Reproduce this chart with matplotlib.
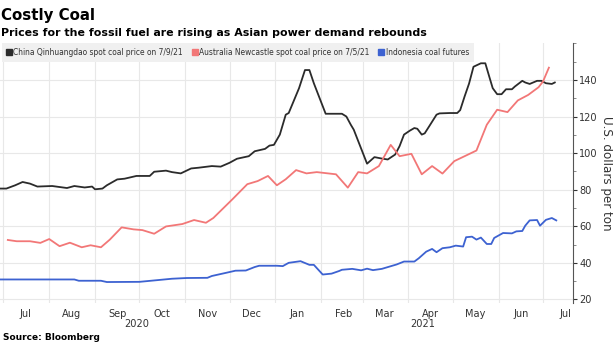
import matplotlib
matplotlib.use("Agg")
import matplotlib.pyplot as plt
import matplotlib.dates as mdates
from matplotlib.lines import Line2D
from matplotlib.ticker import MultipleLocator
import pandas as pd

# China Qinhuangdao spot coal price
china_dates = [
    "2020-06-29", "2020-07-03", "2020-07-09", "2020-07-14", "2020-07-19", "2020-07-24",
    "2020-08-03", "2020-08-13", "2020-08-18", "2020-08-25", "2020-08-30", "2020-09-01",
    "2020-09-06", "2020-09-09", "2020-09-16", "2020-09-21", "2020-09-29", "2020-10-08",
    "2020-10-11", "2020-10-19", "2020-10-23", "2020-10-29", "2020-11-05", "2020-11-10",
    "2020-11-19", "2020-11-25", "2020-12-01", "2020-12-06", "2020-12-14", "2020-12-18",
    "2020-12-25", "2020-12-28", "2020-12-31", "2021-01-04", "2021-01-08", "2021-01-10",
    "2021-01-17", "2021-01-21", "2021-01-24", "2021-01-27", "2021-02-04", "2021-02-15",
    "2021-02-18", "2021-02-21", "2021-02-23", "2021-03-04", "2021-03-09", "2021-03-14",
    "2021-03-18", "2021-03-23", "2021-03-26", "2021-03-29", "2021-04-02", "2021-04-05",
    "2021-04-07", "2021-04-10", "2021-04-12", "2021-04-15", "2021-04-20", "2021-04-22",
    "2021-04-29", "2021-05-04", "2021-05-06", "2021-05-09", "2021-05-12", "2021-05-15",
    "2021-05-20", "2021-05-23", "2021-05-26", "2021-05-28", "2021-05-31", "2021-06-03",
    "2021-06-06", "2021-06-10", "2021-06-12", "2021-06-17", "2021-06-19", "2021-06-22",
    "2021-06-27", "2021-06-30", "2021-07-03", "2021-07-07", "2021-07-09",
]
china_vals = [
    80.6, 80.6, 82.4, 84.2, 83.3, 81.7,
    82.0, 80.9, 82.0, 81.2, 81.7, 80.2,
    80.6, 82.4, 85.6, 86.0, 87.5, 87.5,
    89.8, 90.4, 89.6, 88.9, 91.6, 92.0,
    92.9, 92.6, 94.7, 96.9, 98.3, 101.0,
    102.3, 104.1, 104.5, 110.1, 121.0, 121.9,
    135.5, 145.4, 145.4, 138.2, 121.5, 121.5,
    120.0, 115.5, 112.8, 94.2, 97.8, 97.0,
    96.5, 99.2, 103.8, 110.1, 112.3, 113.7,
    113.3, 110.1, 110.8, 114.6, 121.0, 121.7,
    121.9, 121.9, 123.5, 131.0, 138.0, 147.2,
    149.1, 149.1, 140.9, 135.5, 132.2, 132.2,
    134.9, 134.9, 136.4, 139.5, 138.6, 137.8,
    139.5, 139.5, 138.2, 137.8, 138.6,
]

# Australia Newcastle spot coal price
aus_dates = [
    "2020-07-04", "2020-07-10", "2020-07-19", "2020-07-26", "2020-08-01", "2020-08-08",
    "2020-08-15", "2020-08-23", "2020-08-29", "2020-09-05", "2020-09-11", "2020-09-19",
    "2020-09-27", "2020-10-03", "2020-10-11", "2020-10-19", "2020-10-30", "2020-11-07",
    "2020-11-15", "2020-11-20", "2020-12-03", "2020-12-13", "2020-12-20", "2020-12-27",
    "2021-01-02", "2021-01-08", "2021-01-15", "2021-01-22", "2021-01-29", "2021-02-11",
    "2021-02-19", "2021-02-26", "2021-03-04", "2021-03-12", "2021-03-20", "2021-03-26",
    "2021-04-03", "2021-04-10", "2021-04-17", "2021-04-24", "2021-05-02", "2021-05-09",
    "2021-05-17", "2021-05-24", "2021-05-31", "2021-06-07", "2021-06-14", "2021-06-21",
    "2021-06-28", "2021-07-01", "2021-07-05",
]
aus_vals = [
    52.5, 51.8, 51.8, 50.9, 53.0, 49.1,
    51.0, 48.5, 49.6, 48.5, 52.7, 59.4,
    58.3, 57.9, 55.9, 59.9, 61.2, 63.4,
    61.9, 64.5, 74.8, 83.0, 84.7, 87.5,
    82.4, 85.7, 90.7, 88.9, 89.6, 88.4,
    81.1, 89.6, 88.9, 92.9, 104.5, 98.3,
    99.6, 88.4, 92.9, 88.8, 95.6, 98.3,
    101.4, 115.5, 123.7, 122.4, 128.8, 131.8,
    136.0, 139.1, 146.7,
]

# Indonesia coal futures
indo_dates = [
    "2020-06-29", "2020-08-18", "2020-08-21", "2020-09-05", "2020-09-09", "2020-10-01",
    "2020-10-14", "2020-10-23", "2020-11-02", "2020-11-16", "2020-11-19", "2020-11-29",
    "2020-12-05", "2020-12-12", "2020-12-18", "2020-12-21", "2021-01-02", "2021-01-06",
    "2021-01-10", "2021-01-18", "2021-01-24", "2021-01-27", "2021-02-02", "2021-02-08",
    "2021-02-13", "2021-02-15", "2021-02-22", "2021-02-28", "2021-03-04", "2021-03-08",
    "2021-03-14", "2021-03-24", "2021-03-29", "2021-04-05", "2021-04-08", "2021-04-13",
    "2021-04-17", "2021-04-20", "2021-04-24", "2021-04-29", "2021-05-03", "2021-05-08",
    "2021-05-10", "2021-05-14", "2021-05-17", "2021-05-20", "2021-05-24", "2021-05-27",
    "2021-05-29", "2021-06-04", "2021-06-10", "2021-06-13", "2021-06-17", "2021-06-19",
    "2021-06-22", "2021-06-27", "2021-06-29", "2021-07-03", "2021-07-07", "2021-07-10",
]
indo_vals = [
    30.9, 30.9, 30.2, 30.2, 29.5, 29.6,
    30.6, 31.3, 31.7, 31.8, 32.8, 34.6,
    35.7, 35.8, 37.7, 38.4, 38.4, 38.2,
    40.0, 40.9, 38.9, 38.9, 33.6, 34.1,
    35.5, 36.2, 36.7, 35.9, 36.8, 36.0,
    36.7, 39.1, 40.7, 40.7, 42.5, 46.1,
    47.6, 45.8, 48.0, 48.5, 49.4, 48.9,
    54.0, 54.3, 52.7, 53.8, 50.3, 50.3,
    53.6, 56.3, 56.1, 57.2, 57.4, 60.3,
    63.2, 63.4, 60.3, 63.5, 64.5, 63.2,
]

series_labels = [
    "China Qinhuangdao spot coal price on 7/9/21",
    "Australia Newcastle spot coal price on 7/5/21",
    "Indonesia coal futures",
]
y_ticks = [20, 40, 60, 80, 100, 120, 140]

colors = ["#2b2b2b", "#f27777", "#3d62d1"]
grid_c = "#e8e8e8"
text_c = "#333333"

plt.rcParams["font.family"] = ["DejaVu Sans"]
plt.rcParams["font.stretch"] = "condensed"

fig = plt.figure(figsize=(6.13, 3.44), dpi=100)
ax = fig.add_axes([0.0, 0.119, 0.935, 0.755])

for d, v, c in zip([china_dates, aus_dates, indo_dates],
                   [china_vals, aus_vals, indo_vals], colors):
    ax.plot(pd.to_datetime(d), v, color=c, lw=1.3, solid_joinstyle="round")

ax.set_xlim(pd.Timestamp("2020-06-28 17:00"), pd.Timestamp("2021-07-21 10:00"))
ax.set_ylim(18, 160)

# month labels in the middle, grid at month starts
ax.xaxis.set_major_locator(mdates.MonthLocator(bymonthday=16))
ax.xaxis.set_major_formatter(mdates.DateFormatter("%b"))
ax.xaxis.set_minor_locator(mdates.MonthLocator(bymonthday=1))
ax.tick_params(axis="x", which="both", length=0, labelsize=7.8, colors=text_c, pad=4)
ax.grid(True, which="minor", axis="x", color=grid_c, lw=0.8)
ax.grid(True, which="major", axis="y", color=grid_c, lw=0.8)
ax.set_axisbelow(True)

ax.yaxis.tick_right()
ax.yaxis.set_label_position("right")
ax.set_yticks(y_ticks)
ax.yaxis.set_minor_locator(MultipleLocator(10))
ax.tick_params(axis="y", which="major", length=3, width=0.8, labelsize=7.8,
               colors=text_c, pad=1.5)
ax.tick_params(axis="y", which="minor", length=2, width=0.6, colors="#777777")
ax.set_ylabel("U.S. dollars per ton", rotation=-90, fontsize=8.6,
              color=text_c, fontstretch="normal", va="center", ha="center")
ax.yaxis.set_label_coords(1.059, 0.5)

for s in ["top", "left", "bottom"]:
    ax.spines[s].set_visible(False)
ax.spines["right"].set_color("#555555")
ax.spines["right"].set_linewidth(0.8)

# year labels centred under each year's span
ax.text(137 / 573, -0.062, "2020", transform=ax.transAxes, ha="center", va="top",
        fontsize=7.8, color=text_c)
ax.text(423 / 573, -0.062, "2021", transform=ax.transAxes, ha="center", va="top",
        fontsize=7.8, color=text_c)

handles = [Line2D([], [], ls="none", marker="s", ms=4.5, color=c) for c in colors]
leg = ax.legend(handles, series_labels, loc="upper left", bbox_to_anchor=(0.003, 1.0),
                ncol=3, frameon=True, fancybox=False, facecolor="#f0f0f0",
                edgecolor="none", framealpha=1, borderaxespad=0, borderpad=0.55,
                handlelength=0.6, handletextpad=0.25, columnspacing=1.1,
                prop={"size": 6})
for t in leg.get_texts():
    t.set_color(text_c)

fig.text(0.002, 0.955, "Costly Coal", fontsize=10.8, fontweight="bold",
         fontstretch="normal", va="center")
fig.text(0.002, 0.905, "Prices for the fossil fuel are rising as Asian power demand rebounds",
         fontsize=7.9, fontweight="bold", fontstretch="normal", va="center")
fig.text(0.005, 0.018, "Source: Bloomberg", fontsize=6.5, fontweight="bold",
         fontstretch="normal", va="center")

fig.savefig("out.png", dpi=100, facecolor="white")
